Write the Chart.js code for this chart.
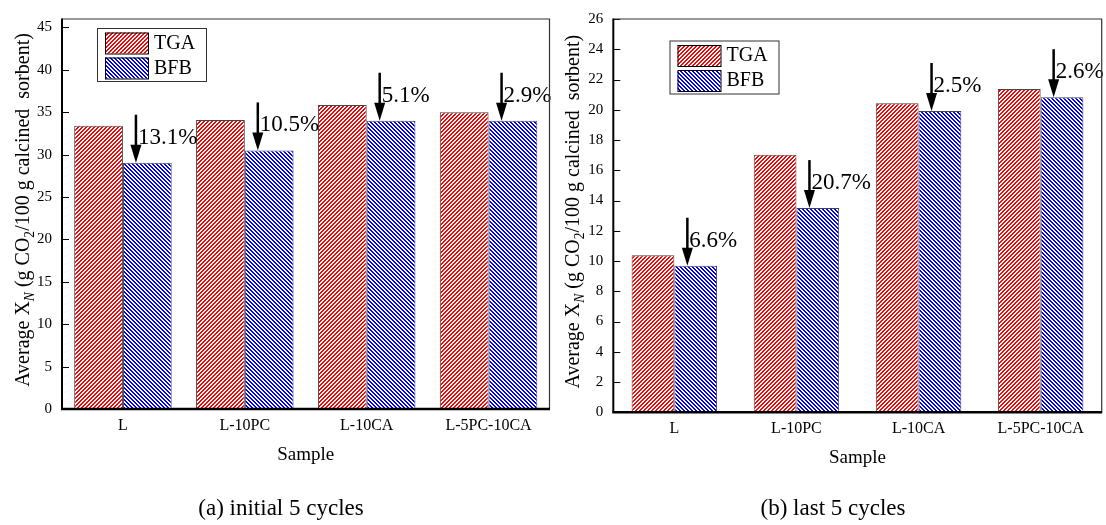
<!DOCTYPE html>
<html lang="en">
<head>
<meta charset="UTF-8">
<title>Average XN - TGA vs BFB</title>
<script src="https://cdn.jsdelivr.net/npm/chart.js"></script>
<style>
  html, body { margin: 0; padding: 0; background: #fff; }
  .wrap { position: relative; width: 1106px; height: 525px; overflow: hidden; }
  .panel { position: absolute; top: 0; width: 553px; height: 525px; }
  .caption {
    position: absolute; top: 495px;
    font-family: 'Liberation Serif', 'Times New Roman', serif;
    font-size: 23px; color: #000;
    transform: translateX(-50%); white-space: nowrap;
  }
</style>
</head>
<body>
<div class="wrap">
  <div class="panel" style="left:0"><canvas id="chartA" width="553" height="525"></canvas></div>
  <div class="panel" style="left:553px"><canvas id="chartB" width="553" height="525"></canvas></div>
  <div class="caption" style="left:281px">(a) initial 5 cycles</div>
  <div class="caption" style="left:833px">(b) last 5 cycles</div>
</div>

<script>
  // data
  const samples = ['L', 'L-10PC', 'L-10CA', 'L-5PC-10CA'];
  const seriesNames = ['TGA', 'BFB'];

  // (a) initial 5 cycles
  const tgaInitial = [33.4, 34.1, 35.85, 35.0];
  const bfbInitial = [29.05, 30.5, 34.0, 34.0];
  const dropInitial = ['13.1%', '10.5%', '5.1%', '2.9%'];
  const yTicksInitial = [0, 5, 10, 15, 20, 25, 30, 35, 40, 45];

  // (b) last 5 cycles
  const tgaLast = [10.38, 17.02, 20.43, 21.38];
  const bfbLast = [9.69, 13.5, 19.92, 20.83];
  const dropLast = ['6.6%', '20.7%', '2.5%', '2.6%'];
  const yTicksLast = [0, 2, 4, 6, 8, 10, 12, 14, 16, 18, 20, 22, 24, 26];

  const FONT = "'Liberation Serif', 'Times New Roman', serif";

  // crisp diagonal hatch, dir 1 = '/', -1 = '\'
  function hatch(rgb, dir) {
    const s = 4;
    const c = document.createElement('canvas');
    c.width = s; c.height = s;
    const g = c.getContext('2d');
    const img = g.createImageData(s, s);
    for (let y = 0; y < s; y++) {
      for (let x = 0; x < s; x++) {
        const k = ((dir > 0 ? x + y : x - y) % s + s) % s;
        const on = k < 2;
        const p = (y * s + x) * 4;
        img.data[p] = on ? rgb[0] : 255;
        img.data[p + 1] = on ? rgb[1] : 255;
        img.data[p + 2] = on ? rgb[2] : 255;
        img.data[p + 3] = 255;
      }
    }
    g.putImageData(img, 0, 0);
    return g.createPattern(c, 'repeat');
  }

  const redHatch = hatch([255, 0, 0], 1);
  const blueHatch = hatch([0, 0, 255], -1);

  // rotated y title with subscripts
  const yTitle = [
    { t: 'Average X' },
    { t: 'N', sub: true, italic: true },
    { t: ' (g CO' },
    { t: '2', sub: true },
    { t: '/100 g calcined  sorbent)' }
  ];

  function drawRichVertical(ctx, parts, cx, cy, size) {
    const fontFor = p => (p.italic ? 'italic ' : '') + (p.sub ? size * 0.68 : size) + 'px ' + FONT;
    let total = 0;
    parts.forEach(p => { ctx.font = fontFor(p); total += ctx.measureText(p.t).width; });
    ctx.save();
    ctx.translate(cx, cy);
    ctx.rotate(-Math.PI / 2);
    ctx.textAlign = 'left';
    ctx.textBaseline = 'middle';
    ctx.fillStyle = '#000';
    let x = -total / 2;
    parts.forEach(p => {
      ctx.font = fontFor(p);
      ctx.fillText(p.t, x, p.sub ? size * 0.3 : 0);
      x += ctx.measureText(p.t).width;
    });
    ctx.restore();
  }

  const figurePlugin = {
    id: 'figure',
    afterDatasetsDraw(chart, args, opts) {
      const ctx = chart.ctx;
      ctx.save();
      ctx.strokeStyle = '#000';
      ctx.fillStyle = '#000';
      // arrows pointing at the BFB bars + drop labels
      chart.getDatasetMeta(1).data.forEach((bar, i) => {
        const x = bar.x - bar.width / 2 + 13;
        const tip = bar.y;
        ctx.lineWidth = 2.5;
        ctx.beginPath();
        ctx.moveTo(x, tip - 48);
        ctx.lineTo(x, tip - 15);
        ctx.stroke();
        ctx.beginPath();
        ctx.moveTo(x - 5.5, tip - 18);
        ctx.lineTo(x + 5.5, tip - 18);
        ctx.lineTo(x, tip);
        ctx.closePath();
        ctx.fill();
        ctx.font = '23px ' + FONT;
        ctx.textAlign = 'left';
        ctx.textBaseline = 'middle';
        ctx.fillText(opts.drops[i], x + 2, tip - 25);
      });
      ctx.restore();
    },
    afterDraw(chart, args, opts) {
      const ctx = chart.ctx;
      const a = chart.chartArea;
      const ys = chart.scales.y;
      ctx.save();

      // inward ticks on the y axis
      ctx.strokeStyle = '#000';
      ctx.lineWidth = 1;
      ys.ticks.forEach(t => {
        const py = Math.round(ys.getPixelForValue(t.value)) + 0.5;
        ctx.beginPath();
        ctx.moveTo(a.left, py);
        ctx.lineTo(a.left + 7, py);
        ctx.stroke();
      });

      // frame
      ctx.strokeStyle = '#333';
      ctx.lineWidth = 1.2;
      ctx.beginPath();
      ctx.moveTo(a.left, a.top);
      ctx.lineTo(a.right, a.top);
      ctx.lineTo(a.right, a.bottom);
      ctx.stroke();
      ctx.strokeStyle = '#000';
      ctx.lineWidth = 2;
      ctx.beginPath();
      ctx.moveTo(a.left, a.top - 0.5);
      ctx.lineTo(a.left, a.bottom);
      ctx.stroke();
      ctx.lineWidth = 2.5;
      ctx.beginPath();
      ctx.moveTo(a.left - 1, a.bottom);
      ctx.lineTo(a.right + 0.5, a.bottom);
      ctx.stroke();

      // legend
      const lg = opts.legend;
      ctx.fillStyle = '#fff';
      ctx.fillRect(lg.x, lg.y, 109, 53);
      ctx.strokeStyle = '#333';
      ctx.lineWidth = 1;
      ctx.strokeRect(lg.x + 0.5, lg.y + 0.5, 109, 53);
      chart.data.datasets.forEach((ds, i) => {
        const sy = lg.y + 4.5 + i * 25;
        ctx.fillStyle = ds.backgroundColor;
        ctx.fillRect(lg.x + 8, sy, 43, 21);
        ctx.strokeStyle = '#000';
        ctx.strokeRect(lg.x + 8.5, sy + 0.5, 43, 21);
        ctx.fillStyle = '#000';
        ctx.font = '20px ' + FONT;
        ctx.textAlign = 'left';
        ctx.textBaseline = 'middle';
        ctx.fillText(ds.label, lg.x + 57, sy + 11);
      });

      // axis titles
      ctx.font = '19px ' + FONT;
      ctx.textAlign = 'center';
      ctx.textBaseline = 'middle';
      ctx.fillText('Sample', (a.left + a.right) / 2, a.bottom + 46);
      drawRichVertical(ctx, yTitle, opts.titleX, (a.top + a.bottom) / 2 - 4, 20);

      ctx.restore();
    }
  };

  function makeChart(id, tga, bfb, cfg) {
    return new Chart(document.getElementById(id), {
      type: 'bar',
      data: {
        labels: samples,
        datasets: [{
          label: seriesNames[0],
          data: tga,
          backgroundColor: redHatch,
          borderColor: '#444',
          borderWidth: 1,
          categoryPercentage: cfg.catPct,
          barPercentage: 1
        }, {
          label: seriesNames[1],
          data: bfb,
          backgroundColor: blueHatch,
          borderColor: '#444',
          borderWidth: 1,
          categoryPercentage: cfg.catPct,
          barPercentage: 1
        }]
      },
      options: {
        responsive: false,
        animation: false,
        layout: { padding: cfg.padding },
        plugins: {
          legend: { display: false },
          tooltip: { enabled: false },
          figure: { drops: cfg.drops, legend: cfg.legend, titleX: cfg.titleX }
        },
        scales: {
          x: {
            grid: { display: false, drawTicks: false },
            border: { display: false },
            ticks: { color: '#000', font: { family: FONT, size: 16 }, padding: 7, maxRotation: 0 },
            afterFit: s => { s.height = cfg.xHeight; }
          },
          y: {
            min: 0,
            max: cfg.max,
            grid: { display: false, drawTicks: false },
            border: { display: false },
            ticks: { color: '#000', font: { family: FONT, size: 15 }, padding: 10 },
            afterFit: s => { s.width = cfg.yWidth; },
            afterBuildTicks: s => { s.ticks = cfg.ticks.map(v => ({ value: v })); }
          }
        }
      },
      plugins: [figurePlugin]
    });
  }

  makeChart('chartA', tgaInitial, bfbInitial, {
    max: 46, ticks: yTicksInitial, catPct: 0.8, drops: dropInitial,
    padding: { left: 0, right: 3.5, top: 9, bottom: 0 },
    yWidth: 62, xHeight: 116,
    legend: { x: 97, y: 28 }, titleX: 24
  });

  makeChart('chartB', tgaLast, bfbLast, {
    max: 26, ticks: yTicksLast, catPct: 0.7, drops: dropLast,
    padding: { left: 0, right: 4.3, top: 14, bottom: 0 },
    yWidth: 60.3, xHeight: 112.7,
    legend: { x: 116.5, y: 40.5 }, titleX: 21
  });
</script>
</body>
</html>
